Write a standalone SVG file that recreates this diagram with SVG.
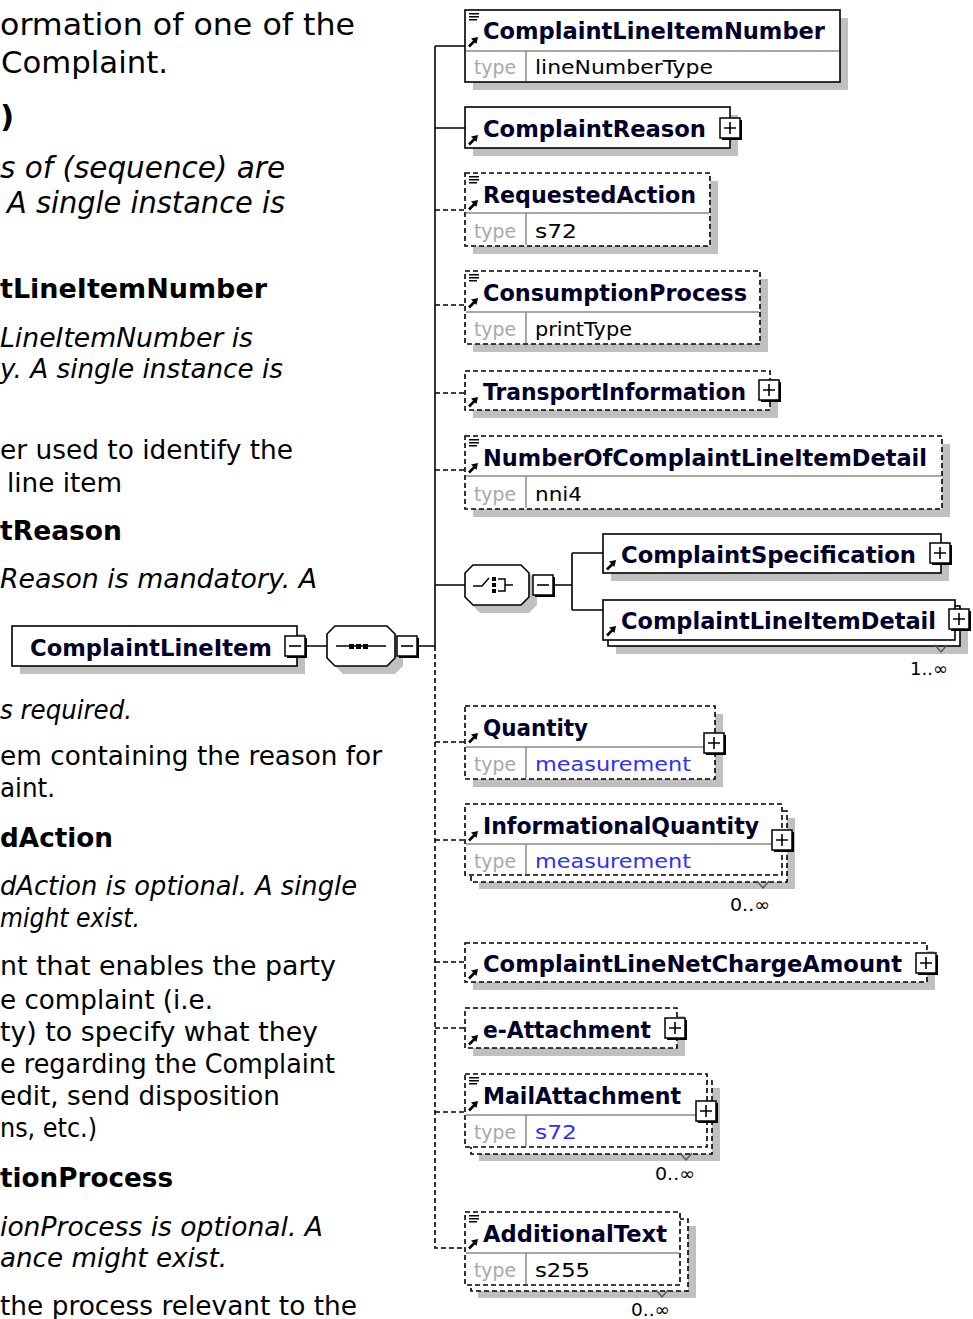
<svg xmlns="http://www.w3.org/2000/svg" xmlns:xlink="http://www.w3.org/1999/xlink" width="973" height="1319" viewBox="0 0 973 1319">
<style>
.txt{font-family:"DejaVu Sans",Verdana,sans-serif;font-size:26.6px;fill:#000}
.big{font-size:31px}
.mid{font-size:29.5px}
.it{font-style:italic}
.bd{font-weight:bold}
.box{fill:#fff;stroke:#000;stroke-width:1.6}
.dbox{fill:#fff;stroke:#000;stroke-width:1.6;stroke-dasharray:5 3}
.sh{fill:#c0c0c0}
.dv{stroke:#8a8a8a;stroke-width:1.5;fill:none}
.title{font-family:"DejaVu Sans",Verdana,sans-serif;font-weight:bold;font-size:22.5px;fill:#00002a}
.tl{font-family:"DejaVu Sans",Verdana,sans-serif;font-size:19px;fill:#a8a8a8}
.tv{font-family:"DejaVu Sans",Verdana,sans-serif;font-size:20px;fill:#000}
.blue{fill:#2f2fff}
.mult{font-family:"DejaVu Sans",Verdana,sans-serif;font-size:18px;fill:#000}
.c{stroke:#000;stroke-width:1.6;fill:none}
.dc{stroke:#000;stroke-width:1.6;fill:none;stroke-dasharray:5 3}
</style>
<defs>
<g id="plus"><rect x="2" y="2" width="20" height="20" fill="#000"/><rect x="0" y="0" width="20" height="20" fill="#fff" stroke="#000" stroke-width="1.5"/><path d="M4,10H16M10,4V16" stroke="#000" stroke-width="1.6"/></g>
<g id="minus"><rect x="2" y="2" width="20" height="20" fill="#000"/><rect x="0" y="0" width="20" height="20" fill="#fff" stroke="#000" stroke-width="1.5"/><path d="M4,10H16" stroke="#000" stroke-width="1.6"/></g>
<g id="lines"><path d="M0,0.8H10M0,3.8H10M0,6.8H8" stroke="#000" stroke-width="1.5"/></g>
<g id="arr"><path d="M1,9.5L6.5,4" stroke="#000" stroke-width="2.6"/><polygon points="3,1.5 10,0 8.5,7" fill="#000"/></g>
<g id="tri"><path d="M0,0L6,7L12,0" stroke="#555" stroke-width="1.3" fill="none"/></g>
</defs>

<g id="description">
<text class="txt big" x="0" y="35" textLength="355" lengthAdjust="spacingAndGlyphs">ormation of one of the</text>
<text class="txt big" x="1" y="73" textLength="167" lengthAdjust="spacingAndGlyphs">Complaint.</text>
<text class="txt big bd" x="0" y="127">)</text>
<text class="txt mid it" x="0" y="178" textLength="285" lengthAdjust="spacingAndGlyphs">s of (sequence) are</text>
<text class="txt mid it" x="7" y="213" textLength="278" lengthAdjust="spacingAndGlyphs">A single instance is</text>
<text class="txt bd" x="0" y="298" textLength="267" lengthAdjust="spacingAndGlyphs">tLineItemNumber</text>
<text class="txt it" x="0" y="347" textLength="253" lengthAdjust="spacingAndGlyphs">LineItemNumber is</text>
<text class="txt it" x="0" y="378" textLength="283" lengthAdjust="spacingAndGlyphs">y. A single instance is</text>
<text class="txt" x="0" y="459" textLength="293" lengthAdjust="spacingAndGlyphs">er used to identify the</text>
<text class="txt" x="7" y="492" textLength="115" lengthAdjust="spacingAndGlyphs">line item</text>
<text class="txt bd" x="0" y="540" textLength="122" lengthAdjust="spacingAndGlyphs">tReason</text>
<text class="txt it" x="0" y="588" textLength="317" lengthAdjust="spacingAndGlyphs">Reason is mandatory. A</text>
<text class="txt it" x="0" y="719" textLength="132" lengthAdjust="spacingAndGlyphs">s required.</text>
<text class="txt" x="0" y="765" textLength="382" lengthAdjust="spacingAndGlyphs">em containing the reason for</text>
<text class="txt" x="0" y="797" textLength="55" lengthAdjust="spacingAndGlyphs">aint.</text>
<text class="txt bd" x="0" y="847" textLength="113" lengthAdjust="spacingAndGlyphs">dAction</text>
<text class="txt it" x="0" y="895" textLength="357" lengthAdjust="spacingAndGlyphs">dAction is optional. A single</text>
<text class="txt it" x="0" y="927" textLength="140" lengthAdjust="spacingAndGlyphs">might exist.</text>
<text class="txt" x="0" y="975" textLength="336" lengthAdjust="spacingAndGlyphs">nt that enables the party</text>
<text class="txt" x="0" y="1009" textLength="213" lengthAdjust="spacingAndGlyphs">e complaint (i.e.</text>
<text class="txt" x="0" y="1041" textLength="318" lengthAdjust="spacingAndGlyphs">ty) to specify what they</text>
<text class="txt" x="0" y="1073" textLength="335" lengthAdjust="spacingAndGlyphs">e regarding the Complaint</text>
<text class="txt" x="0" y="1105" textLength="280" lengthAdjust="spacingAndGlyphs">edit, send disposition</text>
<text class="txt" x="0" y="1137" textLength="97" lengthAdjust="spacingAndGlyphs">ns, etc.)</text>
<text class="txt bd" x="0" y="1187" textLength="173" lengthAdjust="spacingAndGlyphs">tionProcess</text>
<text class="txt it" x="0" y="1236" textLength="323" lengthAdjust="spacingAndGlyphs">ionProcess is optional. A</text>
<text class="txt it" x="0" y="1267" textLength="227" lengthAdjust="spacingAndGlyphs">ance might exist.</text>
<text class="txt" x="0" y="1315" textLength="357" lengthAdjust="spacingAndGlyphs">the process relevant to the</text>
</g>

<g id="connectors">
<path class="c" d="M435,46V646"/>
<path class="dc" d="M435,646V1248H465"/>
<path class="c" d="M435,46H465M435,128H465M435,585H465"/>
<path class="dc" d="M435,210H465M435,305H465M435,393H465M435,470H465M435,742H465M435,840H465M435,962H465M435,1028H465M435,1112H465"/>
<path class="c" d="M305,646H327M417,646H435"/>
<path class="c" d="M553,585H572M572,553V610M572,553H603M572,610H603"/>
</g>

<g id="ComplaintLineItem">
<rect class="sh" x="20" y="634" width="285" height="40"/>
<rect class="box" x="12" y="626" width="285" height="40"/>
<text class="title" x="30" y="656" textLength="242" lengthAdjust="spacingAndGlyphs">ComplaintLineItem</text>
<use xlink:href="#minus" x="285" y="636"/>
</g>

<g id="sequence">
<polygon class="sh" points="343,634 395,634 403,642 403,666 395,674 343,674 335,666 335,642"/>
<polygon class="box" points="335,626 387,626 395,634 395,658 387,666 335,666 327,658 327,634"/>
<path d="M336,646H386" stroke="#000" stroke-width="1.6"/>
<rect x="349" y="644" width="5" height="5" fill="#000"/><rect x="356" y="644" width="5" height="5" fill="#000"/><rect x="363" y="644" width="5" height="5" fill="#000"/>
<use xlink:href="#minus" x="397" y="636"/>
</g>

<g id="choice">
<polygon class="sh" points="480,573 529,573 537,581 537,605 529,613 480,613 472,605 472,581"/>
<polygon class="box" points="473,565 521,565 529,573 529,597 521,605 473,605 465,597 465,573"/>
<path d="M473,586H482L489,578" stroke="#000" stroke-width="1.5" fill="none"/>
<rect x="492" y="577" width="4" height="4" fill="#000"/><rect x="492" y="583" width="4" height="4" fill="#000"/><rect x="492" y="589" width="4" height="4" fill="#000"/>
<path d="M498,579H505V591H498M505,585H513" stroke="#000" stroke-width="1.5" fill="none"/>
<use xlink:href="#minus" x="533" y="575"/>
</g>

<g id="ComplaintLineItemNumber">
<rect class="sh" x="473" y="18" width="375" height="72"/>
<rect class="box" x="465" y="10" width="375" height="72"/>
<path class="dv" d="M466,51H839M526,51V81"/>
<use xlink:href="#lines" x="469" y="13"/>
<use xlink:href="#arr" x="468" y="37"/>
<text class="title" x="483" y="39" textLength="342" lengthAdjust="spacingAndGlyphs">ComplaintLineItemNumber</text>
<text class="tl" x="474" y="74" textLength="42" lengthAdjust="spacingAndGlyphs">type</text>
<text class="tv" x="535" y="74" textLength="178" lengthAdjust="spacingAndGlyphs">lineNumberType</text>
</g>

<g id="ComplaintReason">
<rect class="sh" x="473" y="115" width="265" height="41"/>
<rect class="box" x="465" y="107" width="265" height="41"/>
<use xlink:href="#arr" x="468" y="135"/>
<text class="title" x="483" y="137" textLength="223" lengthAdjust="spacingAndGlyphs">ComplaintReason</text>
<use xlink:href="#plus" x="720" y="118"/>
</g>

<g id="RequestedAction">
<rect class="sh" x="473" y="181" width="245" height="73"/>
<rect class="dbox" x="465" y="173" width="245" height="73"/>
<path class="dv" d="M466,213H709M526,213V245"/>
<use xlink:href="#lines" x="469" y="176"/>
<use xlink:href="#arr" x="468" y="200"/>
<text class="title" x="483" y="203" textLength="213" lengthAdjust="spacingAndGlyphs">RequestedAction</text>
<text class="tl" x="474" y="238" textLength="42" lengthAdjust="spacingAndGlyphs">type</text>
<text class="tv" x="535" y="238" textLength="42" lengthAdjust="spacingAndGlyphs">s72</text>
</g>

<g id="ConsumptionProcess">
<rect class="sh" x="473" y="279" width="295" height="73"/>
<rect class="dbox" x="465" y="271" width="295" height="73"/>
<path class="dv" d="M466,312H759M526,312V343"/>
<use xlink:href="#lines" x="469" y="274"/>
<use xlink:href="#arr" x="468" y="298"/>
<text class="title" x="483" y="301" textLength="264" lengthAdjust="spacingAndGlyphs">ConsumptionProcess</text>
<text class="tl" x="474" y="336" textLength="42" lengthAdjust="spacingAndGlyphs">type</text>
<text class="tv" x="535" y="336" textLength="97" lengthAdjust="spacingAndGlyphs">printType</text>
</g>

<g id="TransportInformation">
<rect class="sh" x="473" y="379" width="305" height="39"/>
<rect class="dbox" x="465" y="371" width="305" height="39"/>
<use xlink:href="#arr" x="468" y="397"/>
<text class="title" x="483" y="400" textLength="263" lengthAdjust="spacingAndGlyphs">TransportInformation</text>
<use xlink:href="#plus" x="759" y="380"/>
</g>

<g id="NumberOfComplaintLineItemDetail">
<rect class="sh" x="473" y="444" width="477" height="73"/>
<rect class="dbox" x="465" y="436" width="477" height="73"/>
<path class="dv" d="M466,476H941M526,476V508"/>
<use xlink:href="#lines" x="469" y="439"/>
<use xlink:href="#arr" x="468" y="463"/>
<text class="title" x="483" y="466" textLength="444" lengthAdjust="spacingAndGlyphs">NumberOfComplaintLineItemDetail</text>
<text class="tl" x="474" y="501" textLength="42" lengthAdjust="spacingAndGlyphs">type</text>
<text class="tv" x="535" y="501" textLength="47" lengthAdjust="spacingAndGlyphs">nni4</text>
</g>

<g id="ComplaintSpecification">
<rect class="sh" x="611" y="542" width="338" height="39"/>
<rect class="box" x="603" y="534" width="338" height="39"/>
<use xlink:href="#arr" x="606" y="560"/>
<text class="title" x="621" y="563" textLength="295" lengthAdjust="spacingAndGlyphs">ComplaintSpecification</text>
<use xlink:href="#plus" x="930" y="543"/>
</g>

<g id="ComplaintLineItemDetail">
<rect class="sh" x="616" y="614" width="352" height="40"/>
<rect class="box" x="608" y="606" width="352" height="40"/>
<rect class="box" x="603" y="600" width="352" height="40"/>
<use xlink:href="#arr" x="606" y="626"/>
<text class="title" x="621" y="629" textLength="315" lengthAdjust="spacingAndGlyphs">ComplaintLineItemDetail</text>
<use xlink:href="#plus" x="949" y="609"/>
<use xlink:href="#tri" x="935" y="645"/>
<text class="mult" x="910" y="675" textLength="38" lengthAdjust="spacingAndGlyphs">1..∞</text>
</g>

<g id="Quantity">
<rect class="sh" x="473" y="714" width="250" height="73"/>
<rect class="dbox" x="465" y="706" width="250" height="73"/>
<path class="dv" d="M466,747H714M526,747V778"/>
<use xlink:href="#arr" x="468" y="733"/>
<text class="title" x="483" y="736" textLength="105" lengthAdjust="spacingAndGlyphs">Quantity</text>
<text class="tl" x="474" y="771" textLength="42" lengthAdjust="spacingAndGlyphs">type</text>
<text class="tv blue" x="535" y="771" textLength="156" lengthAdjust="spacingAndGlyphs">measurement</text>
<use xlink:href="#plus" x="704" y="733"/>
</g>

<g id="InformationalQuantity">
<rect class="sh" x="479" y="818" width="316" height="71"/>
<rect class="dbox" x="471" y="811" width="316" height="71"/>
<rect class="dbox" x="465" y="804" width="317" height="71"/>
<path class="dv" d="M466,844H781M526,844V874"/>
<use xlink:href="#arr" x="468" y="831"/>
<text class="title" x="483" y="834" textLength="276" lengthAdjust="spacingAndGlyphs">InformationalQuantity</text>
<text class="tl" x="474" y="868" textLength="42" lengthAdjust="spacingAndGlyphs">type</text>
<text class="tv blue" x="535" y="868" textLength="156" lengthAdjust="spacingAndGlyphs">measurement</text>
<use xlink:href="#plus" x="772" y="830"/>
<use xlink:href="#tri" x="757" y="881"/>
<text class="mult" x="730" y="911" textLength="40" lengthAdjust="spacingAndGlyphs">0..∞</text>
</g>

<g id="ComplaintLineNetChargeAmount">
<rect class="sh" x="473" y="951" width="462" height="39"/>
<rect class="dbox" x="465" y="943" width="462" height="39"/>
<use xlink:href="#arr" x="468" y="969"/>
<text class="title" x="483" y="972" textLength="419" lengthAdjust="spacingAndGlyphs">ComplaintLineNetChargeAmount</text>
<use xlink:href="#plus" x="916" y="953"/>
</g>

<g id="e-Attachment">
<rect class="sh" x="473" y="1016" width="212" height="40"/>
<rect class="dbox" x="465" y="1008" width="212" height="40"/>
<use xlink:href="#arr" x="468" y="1035"/>
<text class="title" x="483" y="1038" textLength="168" lengthAdjust="spacingAndGlyphs">e-Attachment</text>
<use xlink:href="#plus" x="665" y="1018"/>
</g>

<g id="MailAttachment">
<rect class="sh" x="479" y="1088" width="241" height="73"/>
<rect class="dbox" x="471" y="1081" width="241" height="73"/>
<rect class="dbox" x="465" y="1074" width="242" height="73"/>
<path class="dv" d="M466,1115H706M526,1115V1146"/>
<use xlink:href="#lines" x="469" y="1077"/>
<use xlink:href="#arr" x="468" y="1101"/>
<text class="title" x="483" y="1104" textLength="198" lengthAdjust="spacingAndGlyphs">MailAttachment</text>
<text class="tl" x="474" y="1139" textLength="42" lengthAdjust="spacingAndGlyphs">type</text>
<text class="tv blue" x="535" y="1139" textLength="42" lengthAdjust="spacingAndGlyphs">s72</text>
<use xlink:href="#plus" x="696" y="1101"/>
<use xlink:href="#tri" x="680" y="1153"/>
<text class="mult" x="655" y="1180" textLength="40" lengthAdjust="spacingAndGlyphs">0..∞</text>
</g>

<g id="AdditionalText">
<rect class="sh" x="478" y="1226" width="218" height="72"/>
<rect class="dbox" x="471" y="1219" width="217" height="72"/>
<rect class="dbox" x="465" y="1212" width="215" height="73"/>
<path class="dv" d="M466,1253H679M526,1253V1284"/>
<use xlink:href="#lines" x="469" y="1215"/>
<use xlink:href="#arr" x="468" y="1239"/>
<text class="title" x="483" y="1242" textLength="184" lengthAdjust="spacingAndGlyphs">AdditionalText</text>
<text class="tl" x="474" y="1277" textLength="42" lengthAdjust="spacingAndGlyphs">type</text>
<text class="tv" x="535" y="1277" textLength="55" lengthAdjust="spacingAndGlyphs">s255</text>
<use xlink:href="#tri" x="656" y="1290"/>
<text class="mult" x="631" y="1316" textLength="39" lengthAdjust="spacingAndGlyphs">0..∞</text>
</g>
</svg>
